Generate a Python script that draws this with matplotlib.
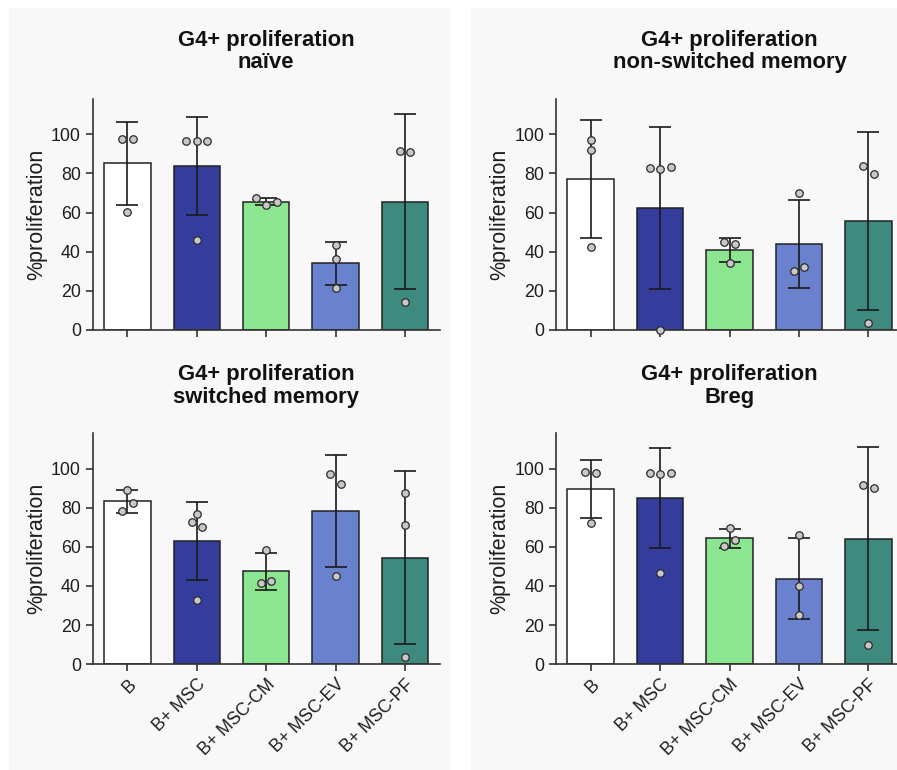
import matplotlib.pyplot as plt
from matplotlib.patches import Rectangle
import numpy as np

plt.rcParams['font.family'] = ['Liberation Sans', 'DejaVu Sans']

groups = ['B', 'B+ MSC', 'B+ MSC-CM', 'B+ MSC-EV', 'B+ MSC-PF']
bar_colors = ['#ffffff', '#343c9c', '#8ce590', '#6a82cd', '#3f8a7f']

titles = ['G4+ proliferation\nnaïve',
          'G4+ proliferation\nnon-switched memory',
          'G4+ proliferation\nswitched memory',
          'G4+ proliferation\nBreg']

# mean and SD per panel
naive_mean = [85.1, 83.7, 65.6, 34.1, 65.6]
naive_sd = [21.4, 25.2, 1.7, 11.0, 44.5]
naive_pts = [[97.6, 97.4, 60.3], [96.6, 96.5, 96.7, 45.9], [67.3, 63.9, 65.2],
             [43.5, 36.3, 21.7], [91.6, 90.9, 14.2]]

nsm_mean = [77.1, 62.2, 40.9, 44.0, 55.7]
nsm_sd = [30.3, 41.4, 6.1, 22.5, 45.3]
nsm_pts = [[97.3, 91.8, 42.5], [82.7, 82.0, 83.4, 0.0], [45.0, 44.0, 34.1],
           [30.1, 32.0, 70.0], [83.9, 79.6, 3.6]]

sm_mean = [83.2, 63.1, 47.5, 78.3, 54.4]
sm_sd = [5.8, 20.0, 9.4, 28.5, 44.2]
sm_pts = [[89.2, 78.1, 82.2], [76.9, 72.8, 69.9, 33.0], [58.3, 41.5, 42.6],
          [97.3, 92.0, 45.3], [87.5, 71.3, 3.9]]

breg_mean = [89.4, 85.0, 64.4, 43.8, 64.1]
breg_sd = [14.8, 25.5, 4.8, 20.6, 46.8]
breg_pts = [[98.1, 97.8, 72.3], [97.8, 97.4, 97.9, 46.7], [69.6, 60.3, 63.4],
            [65.8, 39.8, 25.3], [91.8, 90.1, 9.9]]

panels = [(naive_mean, naive_sd, naive_pts),
          (nsm_mean, nsm_sd, nsm_pts),
          (sm_mean, sm_sd, sm_pts),
          (breg_mean, breg_sd, breg_pts)]


def spread(values, thr=5.4, step=0.15):
    # put points with close values side by side (prism-like scatter)
    vals = np.asarray(values, dtype=float)
    order = np.argsort(vals, kind='stable')
    offsets = np.zeros(len(vals))
    clusters, cur = [], [order[0]]
    for i in order[1:]:
        if vals[i] - vals[cur[0]] < thr:
            cur.append(i)
        else:
            clusters.append(cur)
            cur = [i]
    clusters.append(cur)
    for c in clusters:
        c = sorted(c)
        n = len(c)
        for k, idx in enumerate(c):
            offsets[idx] = (k - (n - 1) / 2) * step
    return offsets


W, H = 897, 770
fig = plt.figure(figsize=(W / 100, H / 100), dpi=100)
fig.patch.set_facecolor('white')
for x0, x1 in [(9, 450), (471, 897)]:
    fig.add_artist(Rectangle((x0 / W, 0), (x1 - x0) / W, 1 - 8 / H,
                             transform=fig.transFigure, facecolor='#f8f8f8',
                             edgecolor='none', zorder=-10))

ax_left = [92.7, 556]
ax_top = [99, 433.3]
ax_w, ax_h = 347, 231

for p, (mean, sd, pts) in enumerate(panels):
    r, c = divmod(p, 2)
    ax = fig.add_axes([ax_left[c] / W, 1 - (ax_top[r] + ax_h) / H, ax_w / W, ax_h / H])
    ax.set_facecolor('none')
    x = np.arange(len(groups))
    ax.bar(x, mean, width=0.67, color=bar_colors, edgecolor='#222222',
           linewidth=1.1, zorder=2)
    ax.errorbar(x, mean, yerr=sd, fmt='none', ecolor='#1a1a1a', elinewidth=1.2,
                capsize=8, capthick=1.2, zorder=3)
    for i, vals in enumerate(pts):
        off = spread(vals)
        ax.plot(x[i] + off, vals, 'o', ms=5.4, mfc='#c8c8c8', mec='#2a2a2a',
                mew=0.9, zorder=4, clip_on=False)
    ax.set_xlim(-0.5, 4.5)
    ax.set_ylim(0, 118)
    ax.set_yticks([0, 20, 40, 60, 80, 100])
    ax.set_xticks(x)
    if r == 1:
        ax.set_xticklabels(groups, rotation=45, ha='right', rotation_mode='anchor',
                           fontsize=13.5)
    else:
        ax.set_xticklabels([])
    for s in ['top', 'right']:
        ax.spines[s].set_visible(False)
    for s in ['left', 'bottom']:
        ax.spines[s].set_color('#333333')
        ax.spines[s].set_linewidth(1.2)
    ax.tick_params(axis='both', length=5, width=1.2, color='#333333',
                   labelsize=12.8, labelcolor='#1e1e1e')
    ax.set_ylabel('%proliferation', fontsize=15.5, color='#1e1e1e')
    ax.yaxis.set_label_coords(-0.132, 0.5)
    ax.set_title(titles[p], fontsize=15.8, fontweight='bold', pad=22,
                 linespacing=1.12, color='#111111')

fig.savefig('out.png', dpi=100)
